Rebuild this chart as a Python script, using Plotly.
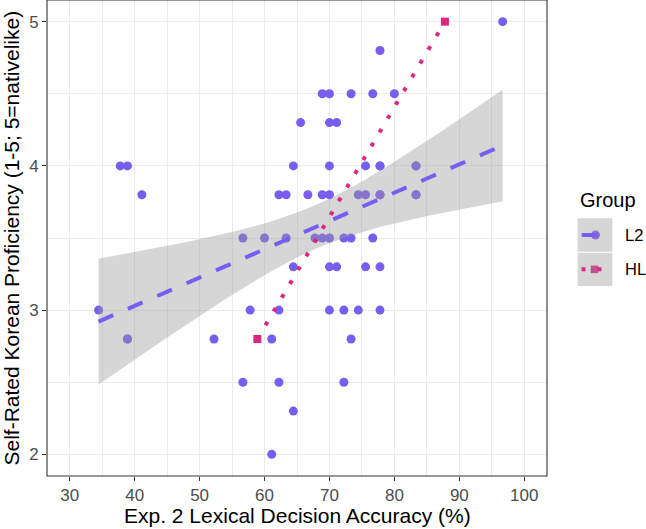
import numpy as np
import plotly.graph_objects as go

# ---------------- data ----------------
# Accuracy values fall on a 1/90 grid; a few participants sit exactly on top of
# one another (same accuracy and rating), so some positions appear twice.
l2_x = [96.67,
        77.78,
        68.89, 70.00, 73.33, 76.67, 80.00,
        65.56, 70.00, 71.11,
        37.78, 38.89, 64.44, 70.00, 75.56, 77.78, 77.78, 83.33, 83.33,
        41.11, 62.22, 63.33, 66.67, 68.89, 70.00, 74.44, 75.56, 77.78, 77.78, 83.33, 83.33,
        56.67, 60.00, 63.33, 67.78, 68.89, 70.00, 72.22, 73.33, 76.67,
        64.44, 70.00, 71.11, 75.56, 77.78,
        34.44, 57.78, 62.22, 70.00, 72.22, 74.44, 77.78,
        38.89, 38.89, 52.22, 61.11, 73.33,
        56.67, 62.22, 72.22,
        64.44,
        61.11]
l2_y = [5.0,
        4.8,
        4.5, 4.5, 4.5, 4.5, 4.5,
        4.3, 4.3, 4.3,
        4.0, 4.0, 4.0, 4.0, 4.0, 4.0, 4.0, 4.0, 4.0,
        3.8, 3.8, 3.8, 3.8, 3.8, 3.8, 3.8, 3.8, 3.8, 3.8, 3.8, 3.8,
        3.5, 3.5, 3.5, 3.5, 3.5, 3.5, 3.5, 3.5, 3.5,
        3.3, 3.3, 3.3, 3.3, 3.3,
        3.0, 3.0, 3.0, 3.0, 3.0, 3.0, 3.0,
        2.8, 2.8, 2.8, 2.8, 2.8,
        2.5, 2.5, 2.5,
        2.3,
        2.0]
hl_x = [58.89, 87.78]
hl_y = [2.8, 5.0]

groups = ["L2", "HL"]
x_ticks = [30, 40, 50, 60, 70, 80, 90, 100]
y_ticks = [2, 3, 4, 5]

COL_L2 = "#785EF0"
COL_HL = "#DC267F"
RIBBON = "rgba(153,153,153,0.4)"
FONT = "Liberation Sans, Arial, Helvetica, sans-serif"

# ---------------- linear fits (geom_smooth(method = "lm")) ----------------
def t_quantile_975(df):
    # Cornish-Fisher expansion of the Student t 97.5% quantile
    z = 1.959963985
    g1 = (z**3 + z) / 4
    g2 = (5 * z**5 + 16 * z**3 + 3 * z) / 96
    g3 = (3 * z**7 + 19 * z**5 + 17 * z**3 - 15 * z) / 384
    return z + g1 / df + g2 / df**2 + g3 / df**3

x = np.array(l2_x)
y = np.array(l2_y)
n = len(x)
xbar, ybar = x.mean(), y.mean()
sxx = np.sum((x - xbar) ** 2)
b1 = np.sum((x - xbar) * (y - ybar)) / sxx
b0 = ybar - b1 * xbar
s = np.sqrt(np.sum((y - (b0 + b1 * x)) ** 2) / (n - 2))
xs = np.linspace(x.min(), x.max(), 80)
fit = b0 + b1 * xs
se = s * np.sqrt(1 / n + (xs - xbar) ** 2 / sxx)
tq = t_quantile_975(n - 2)
lo, hi = fit - tq * se, fit + tq * se

hb = np.polyfit(hl_x, hl_y, 1)
hxs = np.linspace(min(hl_x), max(hl_x), 80)
hfit = np.polyval(hb, hxs)

# ---------------- figure ----------------
fig = go.Figure()
fig.add_trace(go.Scatter(x=l2_x, y=l2_y, mode="markers", name="L2",
                         marker=dict(color=COL_L2, size=9, line=dict(width=0)),
                         showlegend=False))
fig.add_trace(go.Scatter(x=hl_x, y=hl_y, mode="markers", name="HL",
                         marker=dict(color=COL_HL, size=8, symbol="square", line=dict(width=0)),
                         showlegend=False))
fig.add_trace(go.Scatter(x=np.concatenate([xs, xs[::-1]]),
                         y=np.concatenate([hi, lo[::-1]]),
                         mode="lines", fill="toself", fillcolor=RIBBON,
                         line=dict(width=0), showlegend=False, hoverinfo="skip"))
fig.add_trace(go.Scatter(x=xs, y=fit, mode="lines",
                         line=dict(color=COL_L2, width=4, dash="16px,16px"),
                         showlegend=False))
fig.add_trace(go.Scatter(x=hxs, y=hfit, mode="lines",
                         line=dict(color=COL_HL, width=4, dash="4px,12px"),
                         showlegend=False))

W, H = 646, 529
ML, MR, MT, MB = 47, 99, 0, 53
PW, PH = W - ML - MR, H - MT - MB

def px(xp):
    return (xp - ML) / PW

def py(yp):
    return (H - MB - yp) / PH

shapes = []
annotations = []
# panel border
shapes.append(dict(type="rect", xref="paper", yref="paper", x0=0, x1=1, y0=0, y1=1,
                   line=dict(color="#333333", width=1.1), fillcolor="rgba(0,0,0,0)", layer="above"))

# legend (manual, ggplot style)
kx0, kx1 = 577.7, 612.3
keys = [("L2", 218.3, 251.7), ("HL", 252.7, 286.0)]
cy = (keys[0][1] + keys[0][2]) / 2
shapes.append(dict(type="circle", xref="paper", yref="paper",
                   x0=px(591.0), x1=px(600.0), y0=py(cy + 4.5), y1=py(cy - 4.5),
                   fillcolor=COL_L2, line=dict(width=0), layer="above"))
cy2 = (keys[1][1] + keys[1][2]) / 2
shapes.append(dict(type="rect", xref="paper", yref="paper",
                   x0=px(590.7), x1=px(598.3), y0=py(cy2 + 3.8), y1=py(cy2 - 3.8),
                   fillcolor=COL_HL, line=dict(width=0), layer="above"))
for name, ya, yb in keys:
    shapes.append(dict(type="rect", xref="paper", yref="paper",
                       x0=px(kx0), x1=px(kx1), y0=py(yb), y1=py(ya),
                       fillcolor=RIBBON, line=dict(width=0), layer="above"))
shapes.append(dict(type="line", xref="paper", yref="paper",
                   x0=px(581.7), x1=px(612.3), y0=py(cy), y1=py(cy),
                   line=dict(color=COL_L2, width=4, dash="16px,16px"), layer="above"))
shapes.append(dict(type="line", xref="paper", yref="paper",
                   x0=px(581.5), x1=px(612.3), y0=py(cy2), y1=py(cy2),
                   line=dict(color=COL_HL, width=4, dash="4px,12px"), layer="above"))

annotations.append(dict(text="Group", xref="paper", yref="paper", x=px(577.5), y=py(200),
                        xanchor="left", yanchor="middle", showarrow=False,
                        font=dict(family=FONT, size=20, color="black")))
for (name, ya, yb) in keys:
    annotations.append(dict(text=name, xref="paper", yref="paper", x=px(622.5), y=py((ya + yb) / 2),
                            xanchor="left", yanchor="middle", showarrow=False,
                            font=dict(family=FONT, size=16.5, color="black")))

# axis titles
annotations.append(dict(text="Exp. 2 Lexical Decision Accuracy (%)", xref="paper", yref="paper",
                        x=0.5, y=py(515), xanchor="center", yanchor="middle", showarrow=False,
                        font=dict(family=FONT, size=21, color="black")))
annotations.append(dict(text="Self-Rated Korean Proficiency (1-5; 5=nativelike)", xref="paper",
                        yref="paper", x=px(10.5), y=0.5, xanchor="center", yanchor="middle",
                        textangle=-90, showarrow=False,
                        font=dict(family=FONT, size=21, color="black")))

axis_common = dict(showgrid=True, gridcolor="#EBEBEB", gridwidth=1.1, zeroline=False,
                   ticks="outside", ticklen=4, tickwidth=1.1, tickcolor="#333333",
                   tickfont=dict(family=FONT, size=17, color="#4D4D4D"),
                   showline=False)

fig.update_layout(
    width=W, height=H,
    margin=dict(l=ML, r=MR, t=MT, b=MB, pad=0),
    paper_bgcolor="white", plot_bgcolor="white",
    showlegend=False,
    shapes=shapes, annotations=annotations,
    xaxis=dict(range=[26.5, 103.5], tickmode="array", tickvals=x_ticks,
               ticktext=[str(v) for v in x_ticks],
               minor=dict(tickmode="array", tickvals=[35, 45, 55, 65, 75, 85, 95],
                          showgrid=True, gridcolor="#EBEBEB", gridwidth=0.55, ticks=""),
               **axis_common),
    yaxis=dict(range=[1.85, 5.15], tickmode="array", tickvals=y_ticks,
               ticktext=[str(v) for v in y_ticks],
               minor=dict(tickmode="array", tickvals=[2.5, 3.5, 4.5],
                          showgrid=True, gridcolor="#EBEBEB", gridwidth=0.55, ticks=""),
               **axis_common),
)

fig.write_html("out.html")
